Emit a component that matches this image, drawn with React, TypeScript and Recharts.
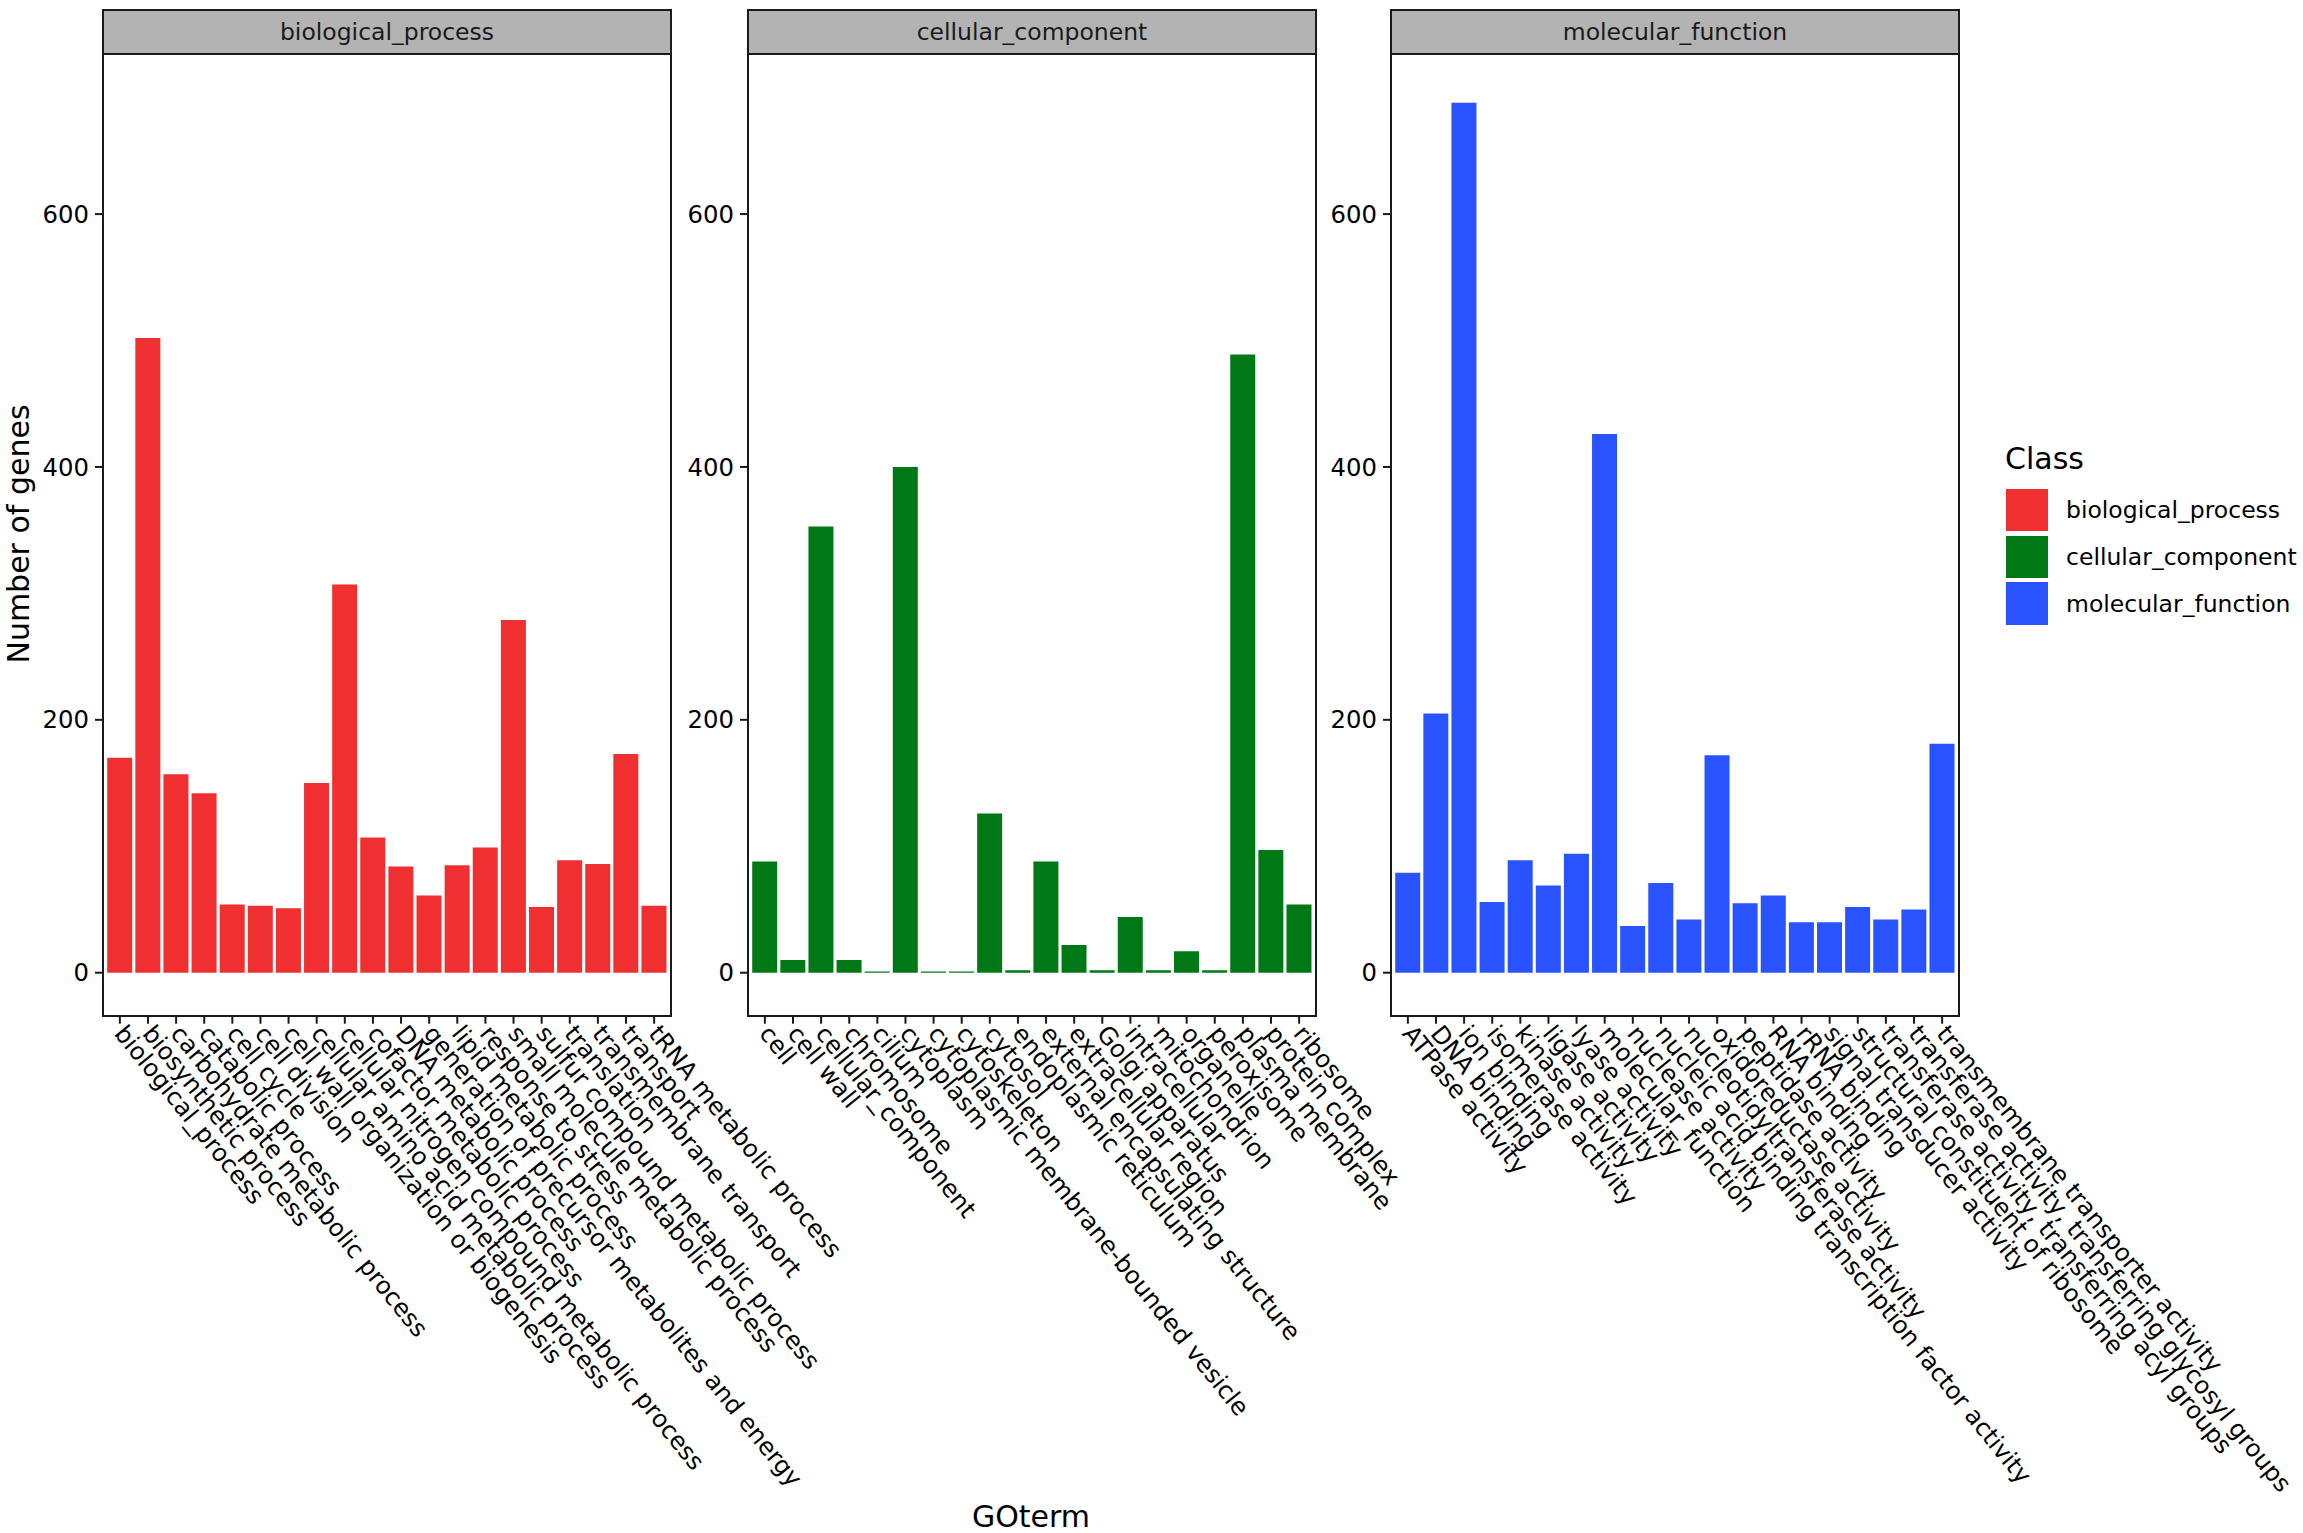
import React from 'react';
import { BarChart, Bar, XAxis, YAxis } from 'recharts';

// GO terms and gene counts, one list per facet
const bpTerms = [
  'biological_process', 'biosynthetic process', 'carbohydrate metabolic process', 'catabolic process',
  'cell cycle', 'cell division', 'cell wall organization or biogenesis', 'cellular amino acid metabolic process',
  'cellular nitrogen compound metabolic process', 'cofactor metabolic process', 'DNA metabolic process',
  'generation of precursor metabolites and energy', 'lipid metabolic process', 'response to stress',
  'small molecule metabolic process', 'sulfur compound metabolic process', 'translation',
  'transmembrane transport', 'transport', 'tRNA metabolic process',
];
const bpCounts = [170, 502, 157, 142, 54, 53, 51, 150, 307, 107, 84, 61, 85, 99, 279, 52, 89, 86, 173, 53];

const ccTerms = [
  'cell', 'cell wall', 'cellular_component', 'chromosome', 'cilium', 'cytoplasm',
  'cytoplasmic membrane-bounded vesicle', 'cytoskeleton', 'cytosol', 'endoplasmic reticulum',
  'external encapsulating structure', 'extracellular region', 'Golgi apparatus', 'intracellular',
  'mitochondrion', 'organelle', 'peroxisome', 'plasma membrane', 'protein complex', 'ribosome',
];
const ccCounts = [88, 10, 353, 10, 1, 400, 1, 1, 126, 2, 88, 22, 2, 44, 2, 17, 2, 489, 97, 54];

const mfTerms = [
  'ATPase activity', 'DNA binding', 'ion binding', 'isomerase activity', 'kinase activity',
  'ligase activity', 'lyase activity', 'molecular_function', 'nuclease activity',
  'nucleic acid binding transcription factor activity', 'nucleotidyltransferase activity',
  'oxidoreductase activity', 'peptidase activity', 'RNA binding', 'rRNA binding',
  'signal transducer activity', 'structural constituent of ribosome',
  'transferase activity, transferring acyl groups', 'transferase activity, transferring glycosyl groups',
  'transmembrane transporter activity',
];
const mfCounts = [79, 205, 688, 56, 89, 69, 94, 426, 37, 71, 42, 172, 55, 61, 40, 40, 52, 42, 50, 181];

const classNames = ['biological_process', 'cellular_component', 'molecular_function'];
const classColors = ['#F03030', '#007816', '#2953FF'];
const yTicks = [0, 200, 400, 600];
const yDomain: [number, number] = [-34, 727];

const FONT = '"DejaVu Sans", Verdana, sans-serif';
const PAGE_W = 2303;
const PAGE_H = 1533;
const PANEL_W = 568;
const PANEL_TOP = 53.5;
const PANEL_BOTTOM = 1015.7;
const STRIP_TOP = 9;
const AXIS_W = 100;
const XAXIS_H = 420;
const panelLefts = [103, 748, 1391];
const LABEL_ANGLE = 51;
const TICK_FONT = 24.3;
const SMALL_FONT = 23.5;
const TITLE_FONT = 30;

const facets = [
  { terms: bpTerms, counts: bpCounts },
  { terms: ccTerms, counts: ccCounts },
  { terms: mfTerms, counts: mfCounts },
];

const SlantTick = (props: any) => {
  const { x, y, payload } = props;
  return (
    <text
      x={x}
      y={y}
      transform={`rotate(${LABEL_ANGLE}, ${x}, ${y})`}
      textAnchor="start"
      dominantBaseline="central"
      fontSize={TICK_FONT}
      fontFamily={FONT}
      fill="#000"
    >
      {payload.value}
    </text>
  );
};

const Facet = ({ idx }: { idx: number }) => {
  const left = panelLefts[idx] - AXIS_W;
  const chartW = PAGE_W - left;
  const rows = facets[idx].terms.map((term, i) => ({ term, count: facets[idx].counts[i] }));
  return (
    <div style={{ position: 'absolute', left, top: 0 }}>
      <BarChart
        width={chartW}
        height={PAGE_H}
        data={rows}
        margin={{ top: PANEL_TOP, right: chartW - AXIS_W - PANEL_W, bottom: PAGE_H - PANEL_BOTTOM - XAXIS_H, left: 0 }}
        barCategoryGap="5%"
      >
        <XAxis
          dataKey="term"
          type="category"
          interval={0}
          height={XAXIS_H}
          padding={{ left: 2.81, right: 2.81 }}
          tick={<SlantTick />}
          tickSize={8}
          tickMargin={5}
          tickLine={{ stroke: '#1a1a1a', strokeWidth: 2 }}
          axisLine={false}
        />
        <YAxis
          type="number"
          width={AXIS_W}
          domain={yDomain}
          allowDataOverflow
          ticks={yTicks}
          tickSize={8}
          tickMargin={6}
          tickLine={{ stroke: '#1a1a1a', strokeWidth: 2 }}
          axisLine={false}
          tick={{ fontSize: TICK_FONT, fill: '#000', fontFamily: FONT }}
        />
        <Bar dataKey="count" fill={classColors[idx]} isAnimationActive={false} />
      </BarChart>
    </div>
  );
};

export default function App() {
  return (
    <div style={{ position: 'absolute', left: 0, top: 0, width: PAGE_W, height: PAGE_H, background: '#fff', fontFamily: FONT, overflow: 'hidden' }}>
      {facets.map((_, i) => <Facet key={i} idx={i} />)}

      {panelLefts.map((l, i) => (
        <React.Fragment key={'frame' + i}>
          <div style={{
            position: 'absolute', left: l - 1, top: STRIP_TOP, width: PANEL_W + 2, height: PANEL_TOP - STRIP_TOP + 1,
            boxSizing: 'border-box', border: '2px solid #1a1a1a', background: '#B3B3B3',
            display: 'flex', alignItems: 'center', justifyContent: 'center', fontSize: SMALL_FONT, color: '#1a1a1a',
          }}>
            {classNames[i]}
          </div>
          <div style={{
            position: 'absolute', left: l - 1, top: PANEL_TOP - 1, width: PANEL_W + 2, height: PANEL_BOTTOM - PANEL_TOP + 2,
            boxSizing: 'border-box', border: '2px solid #1a1a1a', pointerEvents: 'none',
          }} />
        </React.Fragment>
      ))}

      <div style={{
        position: 'absolute', left: 19, top: 534, transform: 'translate(-50%, -50%) rotate(-90deg)',
        fontSize: TITLE_FONT, whiteSpace: 'nowrap', lineHeight: 1, color: '#000',
      }}>
        Number of genes
      </div>
      <div style={{ position: 'absolute', left: 1031, top: 1502, transform: 'translateX(-50%)', fontSize: TITLE_FONT, lineHeight: 1, whiteSpace: 'nowrap' }}>
        GOterm
      </div>

      <div style={{ position: 'absolute', left: 2005, top: 443.5, fontSize: TITLE_FONT, lineHeight: 1 }}>Class</div>
      {classNames.map((name, i) => (
        <React.Fragment key={'leg' + i}>
          <div style={{
            position: 'absolute', left: 2006, top: 489 + i * 46.7, width: 42.4, height: 42.4,
            background: classColors[i],
          }} />
          <div style={{
            position: 'absolute', left: 2066, top: 489 + i * 46.7, height: 42.4, display: 'flex',
            alignItems: 'center', fontSize: SMALL_FONT, whiteSpace: 'nowrap',
          }}>
            {name}
          </div>
        </React.Fragment>
      ))}
    </div>
  );
}
